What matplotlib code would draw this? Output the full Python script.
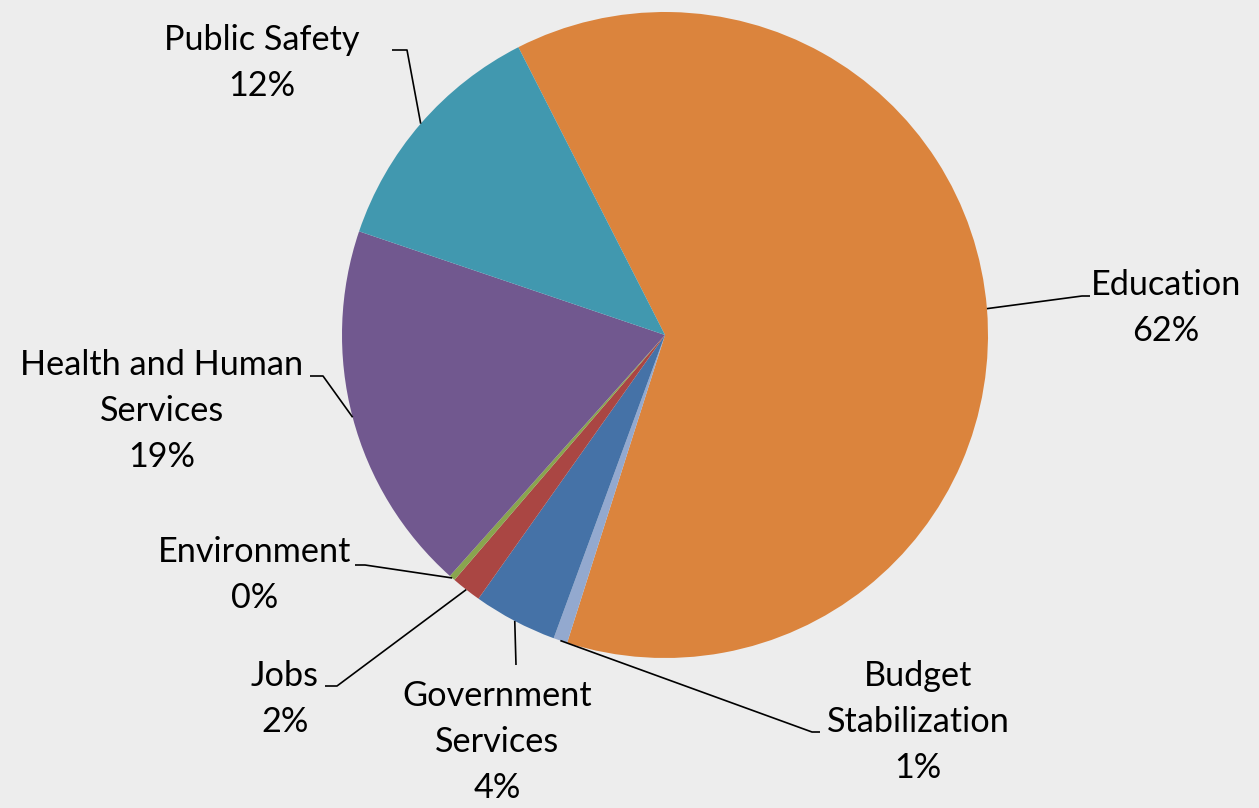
import matplotlib.pyplot as plt
import numpy as np

# Spending by category, percent of total (clockwise from Education)
categories = ["Education", "Budget\nStabilization", "Government\nServices", "Jobs",
              "Environment", "Health and Human\nServices", "Public Safety"]
shares = [62.4, 0.7, 4.2, 1.5, 0.3, 18.6, 12.3]
colors = ["#DB843D", "#93A9CF", "#4572A7", "#AA4643", "#89A54E", "#71588F", "#4198AF"]

# label placement in figure pixels (y up): text centre, elbow, end of short tick
label_xy = [(1166, 500), (918, 86), (497, 66), (285, 109), (255, 233), (162, 397), (262, 745)]
elbow_xy = [(1082, 512), (812, 76), (516, 143), (337, 122), (365, 243), (323, 432), (407, 758)]
tick_xy = [(1090, 512), (820, 76), (516, 143), (325, 122), (355, 243), (310, 432), (392, 758)]

W, H = 1259, 808
cx, cy, R = 665, 473, 323
bg = "#EDEDED"

plt.rcParams['font.family'] = ['Lato', 'DejaVu Sans']

fig = plt.figure(figsize=(W / 100, H / 100), dpi=100, facecolor=bg)
ax = fig.add_axes([0, 0, 1, 1])
ax.set_facecolor(bg)

wedges, _ = ax.pie(shares, colors=colors, center=(cx, cy), radius=R,
                   startangle=117, counterclock=False, frame=True,
                   wedgeprops=dict(linewidth=0))
ax.set_xlim(0, W)
ax.set_ylim(0, H)
ax.set_aspect('equal')
ax.axis('off')

for w, name, v, txy, exy, kxy in zip(wedges, categories, shares, label_xy, elbow_xy, tick_xy):
    mid = np.deg2rad((w.theta1 + w.theta2) / 2)
    px, py = cx + R * np.cos(mid), cy + R * np.sin(mid)
    ax.plot([px, exy[0], kxy[0]], [py, exy[1], kxy[1]], color='black', lw=1.2,
            solid_capstyle='butt')
    ax.text(txy[0], txy[1], f"{name}\n{round(v)}%", ha='center', va='center',
            multialignment='center', fontsize=24.7, linespacing=1.52, color='black')

fig.savefig('out.png', dpi=100, facecolor=bg)
plt.close(fig)
